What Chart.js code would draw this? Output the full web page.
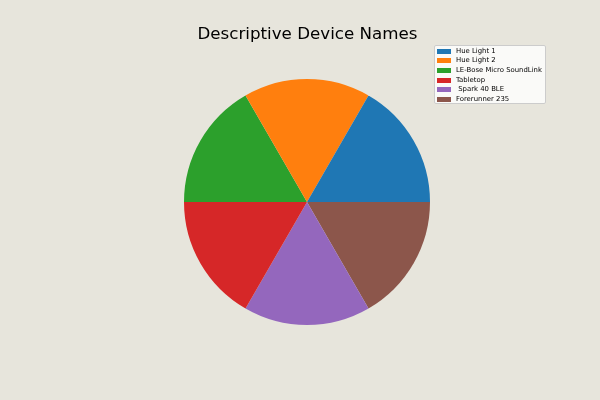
<!DOCTYPE html>
<html><head><meta charset="utf-8">
<script src="https://cdn.jsdelivr.net/npm/chart.js@4.4.0/dist/chart.umd.min.js"></script>
<style>
html,body{margin:0;padding:0;background:#e7e5dc;}
#wrap{position:relative;width:600px;height:400px;background:#e7e5dc;overflow:hidden;}
#c{position:absolute;left:0;top:0;}
#title{position:absolute;left:0;width:615px;top:23px;text-align:center;font-family:"DejaVu Sans";font-size:16.7px;color:#000;line-height:20px;}
#legend{position:absolute;left:434px;top:45px;width:112px;height:59px;background:rgba(255,255,255,0.8);border:1px solid #cccccc;border-radius:2px;font-family:"DejaVu Sans";font-size:6.9px;color:#000;box-sizing:border-box;}
.row{position:absolute;left:2px;height:8px;white-space:pre;}
.sw{position:absolute;left:0;top:1.5px;width:14px;height:5px;}
.lb{position:absolute;left:19px;top:-0.5px;line-height:9px;}
</style></head>
<body><div id="wrap"><canvas id="c" width="600" height="400"></canvas>
<div id="title"></div><div id="legend"></div></div>
<script>
const titleText = "Descriptive Device Names";
const labels = ["Hue Light 1","Hue Light 2","LE-Bose Micro SoundLink","Tabletop"," Spark 40 BLE","Forerunner 235"];
const values = [1,1,1,1,1,1];
const colors = ["#1f77b4","#ff7f0e","#2ca02c","#d62728","#9467bd","#8c564b"];

document.getElementById('title').textContent = titleText;
const lg = document.getElementById('legend');
labels.forEach((l,i)=>{
  const r=document.createElement('div'); r.className='row'; r.style.top=(1+i*9.7)+'px';
  const s=document.createElement('div'); s.className='sw'; s.style.background=colors[i];
  const t=document.createElement('div'); t.className='lb'; t.textContent=l;
  r.appendChild(s); r.appendChild(t); lg.appendChild(r);
});

// Chart.js draws clockwise; matplotlib counter-clockwise from east -> reverse order, start at east
const rl = labels.slice().reverse(), rv = values.slice().reverse(), rc = colors.slice().reverse();
new Chart(document.getElementById('c'), {
  type:'pie',
  data:{labels:rl,datasets:[{data:rv,backgroundColor:rc,borderWidth:0}]},
  options:{
    responsive:false,animation:false,rotation:90,
    layout:{padding:{left:184,right:170,top:79,bottom:75}},
    plugins:{legend:{display:false},title:{display:false},tooltip:{enabled:false}}
  }
});
</script></body></html>
